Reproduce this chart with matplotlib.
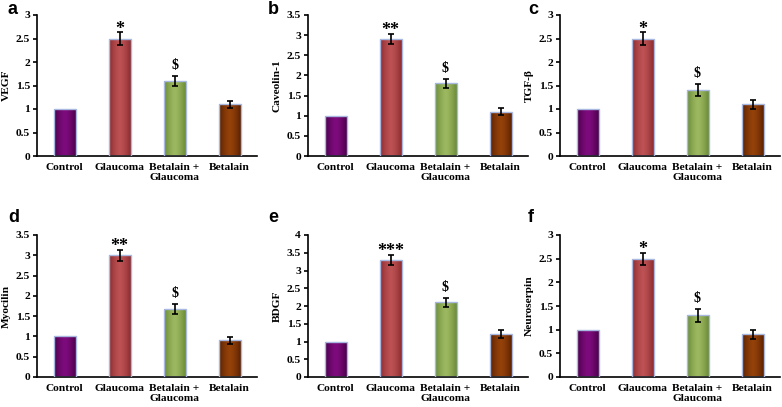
import numpy as np
import matplotlib
matplotlib.use("Agg")
import matplotlib.pyplot as plt
from matplotlib.colors import LinearSegmentedColormap

# Data
groups = ["Control", "Glaucoma", "Betalain +\nGlaucoma", "Betalain"]
panels = ["a", "b", "c", "d", "e", "f"]
markers = ["VEGF", "Caveolin-1", "TGF-β", "Myocilin", "BDGF", "Neuroserpin"]
ymax = [3, 3.5, 3, 3.5, 4, 3]

vegf = [1, 2.5, 1.6, 1.1]
caveolin = [1, 2.9, 1.8, 1.1]
tgf = [1, 2.5, 1.4, 1.1]
myocilin = [1, 3.0, 1.67, 0.9]
bdgf = [1, 3.3, 2.1, 1.2]
neuroserpin = [1, 2.5, 1.3, 0.9]

vegf_err = [0, 0.13, 0.11, 0.08]
caveolin_err = [0, 0.13, 0.11, 0.09]
tgf_err = [0, 0.13, 0.13, 0.09]
myocilin_err = [0, 0.14, 0.12, 0.09]
bdgf_err = [0, 0.15, 0.12, 0.11]
neuroserpin_err = [0, 0.13, 0.13, 0.09]

stars = ["*", "**", "*", "**", "***", "*"]

values = [vegf, caveolin, tgf, myocilin, bdgf, neuroserpin]
errors = [vegf_err, caveolin_err, tgf_err, myocilin_err, bdgf_err, neuroserpin_err]

# bar colours: (edge shade, centre shade)
shades = [("#4a0249", "#7e0b7e"), ("#8a2b2e", "#bd5153"),
          ("#6a8a35", "#9cb860"), ("#5a2100", "#94410a")]

serif = "Liberation Serif"
fig = plt.figure(figsize=(7.82, 4.07), dpi=100)
W, H = 782, 407
lefts = [37, 308, 560]
rows = [(15, 156), (235, 377)]

for i in range(6):
    top, bot = rows[i // 3]
    left = lefts[i % 3]
    ax = fig.add_axes([left / W, 1 - bot / H, 220 / W, (bot - top) / H])
    x = np.arange(len(groups))
    bars = ax.bar(x, values[i], width=0.4, color=[s[1] for s in shades],
                  edgecolor="none", zorder=2)
    grad = np.abs(np.linspace(-1, 1, 64)) ** 1.5
    grad = (1 - grad).reshape(1, -1)
    for b, (dark, light) in zip(bars, shades):
        cm = LinearSegmentedColormap.from_list("s", [dark, light])
        im = ax.imshow(grad, cmap=cm, aspect="auto", zorder=2.5,
                       extent=[b.get_x(), b.get_x() + b.get_width(), 0, b.get_height() * 1.05])
        im.set_clip_path(b)
    ax.bar(x, values[i], width=0.4, color="none", edgecolor="#a8b8e0",
           linewidth=1.0, zorder=3)
    ax.errorbar(x[1:], values[i][1:], yerr=errors[i][1:], fmt="none",
                ecolor="black", elinewidth=1.2, capsize=2.5, capthick=1.2, zorder=4)
    # significance marks
    ax.annotate(stars[i], (x[1], values[i][1] + errors[i][1]), xytext=(0, -1),
                textcoords="offset points", ha="center", va="baseline",
                fontsize=13, fontweight="bold", family=serif)
    ax.annotate("$", (x[2], values[i][2] + errors[i][2]), xytext=(0, 5),
                textcoords="offset points", ha="center", va="baseline",
                fontsize=10, fontweight="bold", family=serif)

    ax.set_xlim(-0.5, 3.5)
    ax.set_ylim(0, ymax[i])
    ax.set_yticks(np.arange(0, ymax[i] + 0.01, 0.5))
    ax.set_yticklabels([f"{t:g}" for t in np.arange(0, ymax[i] + 0.01, 0.5)])
    ax.set_xticks(x)
    ax.set_xticklabels(groups, linespacing=1.1)
    for lab in ax.get_xticklabels() + ax.get_yticklabels():
        lab.set_family(serif)
        lab.set_fontweight("bold")
        lab.set_fontsize(8.2)
    ax.tick_params(axis="x", length=0, pad=5)
    ax.tick_params(axis="y", length=3, width=1.2, pad=2)
    ax.spines["top"].set_visible(False)
    ax.spines["right"].set_visible(False)
    ax.spines["left"].set_linewidth(1.2)
    ax.spines["bottom"].set_linewidth(1.2)
    ax.text(-0.14, 0.5, markers[i], transform=ax.transAxes, rotation=90,
            ha="center", va="center", fontsize=8.2, fontweight="bold", family=serif)

    px = [8, 268, 528][i % 3]
    py = [10, 218][i // 3]
    fig.text(px / W, 1 - py / H, panels[i], ha="left", va="center",
             fontsize=13, fontweight="bold", family="Liberation Sans")

fig.savefig("out.png", dpi=100)
